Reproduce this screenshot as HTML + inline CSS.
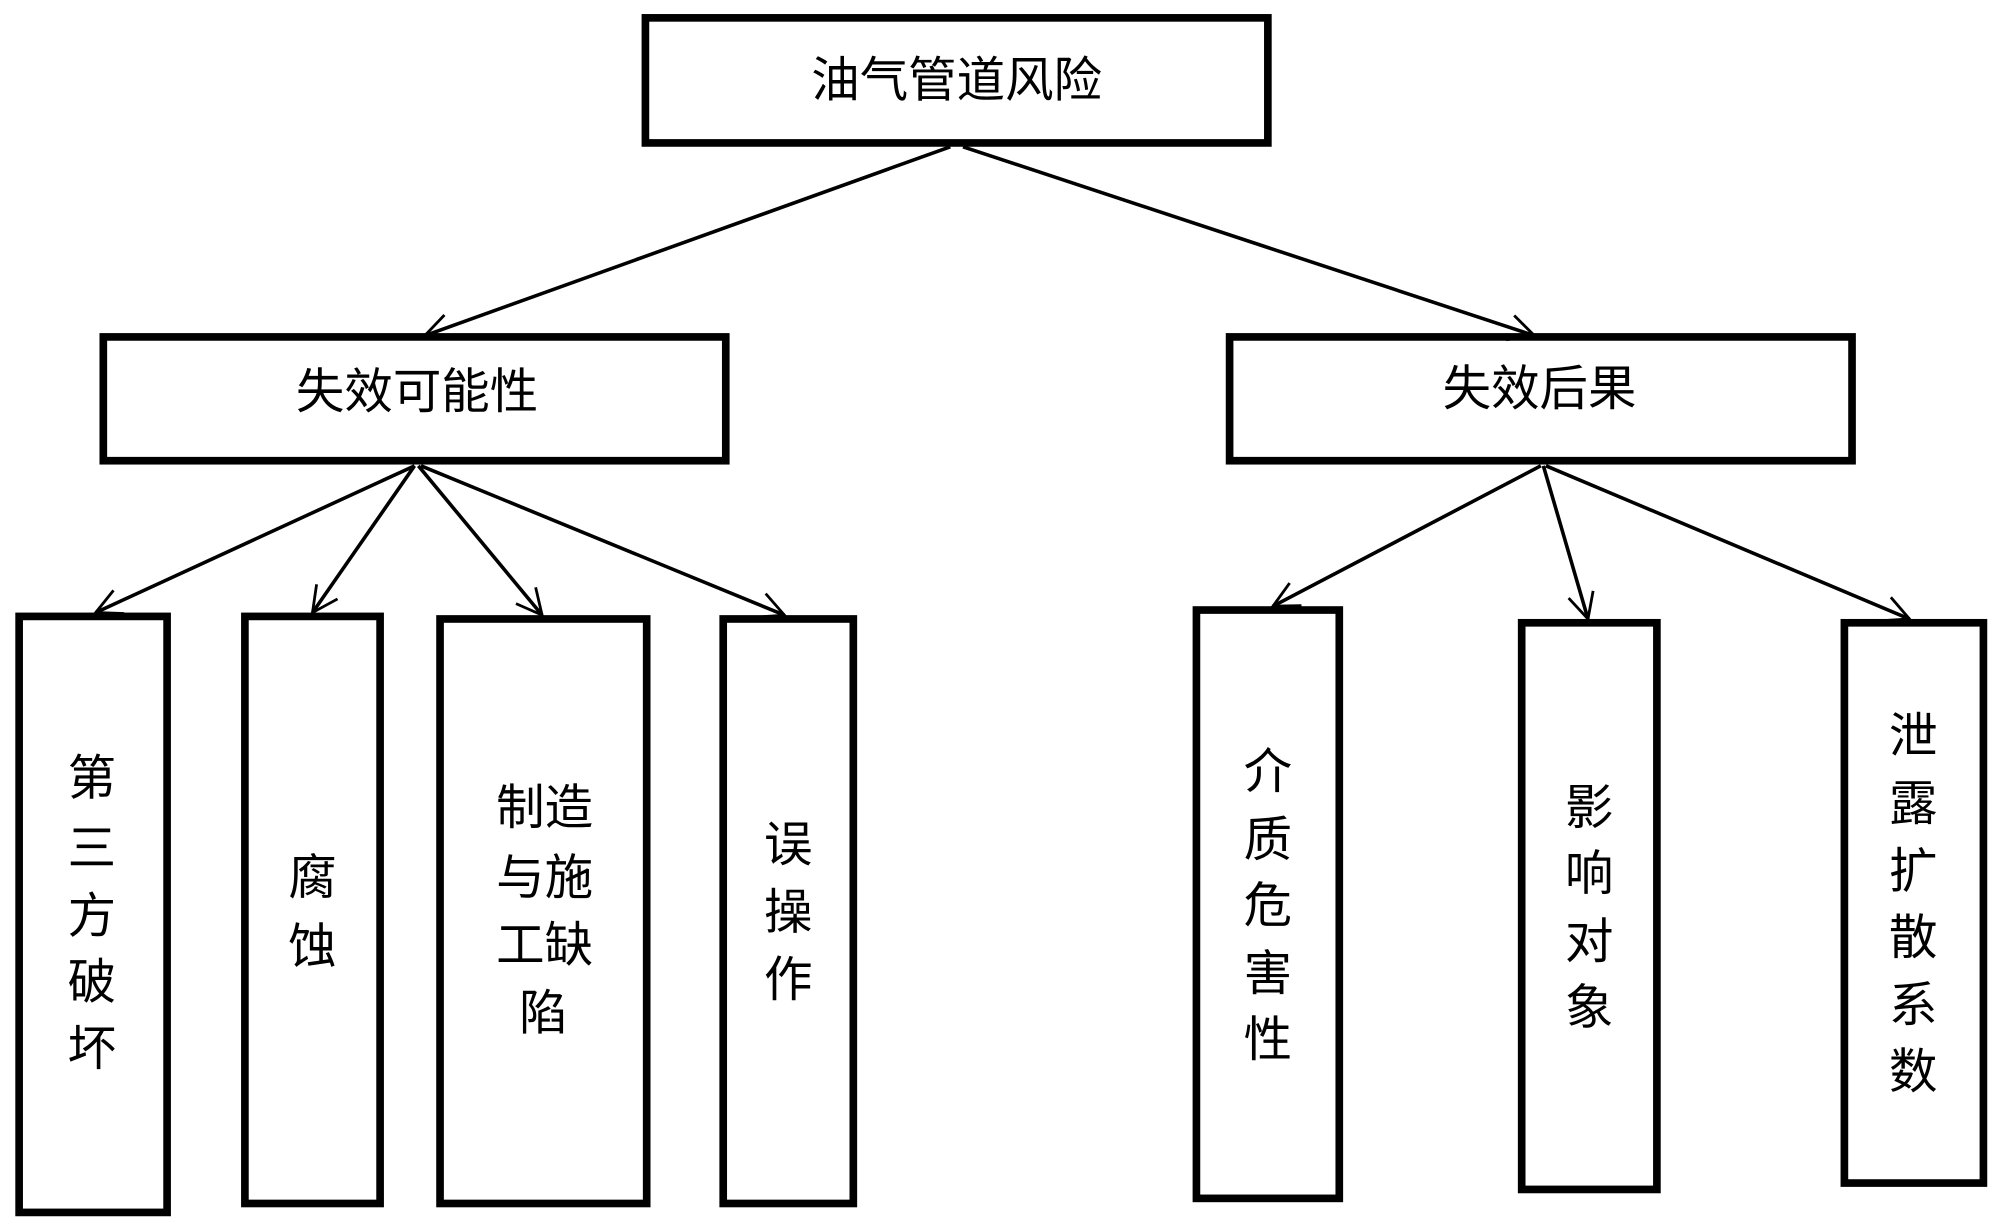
<!DOCTYPE html>
<html><head><meta charset="utf-8"><style>
html,body{margin:0;padding:0;background:#fff;width:2000px;height:1229px;overflow:hidden}
svg{display:block}
text{font-family:"Liberation Sans","Noto Sans CJK SC",sans-serif;font-size:38px;fill:#000;text-anchor:middle;dominant-baseline:central}
</style></head><body>
<svg width="2000" height="1229" viewBox="0 0 1568 963" preserveAspectRatio="none">
<defs><marker id="a" viewBox="0 0 24 24" refX="22" refY="12" markerWidth="24" markerHeight="24" markerUnits="userSpaceOnUse" orient="auto"><path d="M2 2 L22 12 L2 22" fill="none" stroke="#000" stroke-width="2.2"/></marker></defs>
<g fill="none" stroke="#000" stroke-width="6">
<rect x="506" y="14" width="488" height="98"/>
<rect x="81" y="264" width="488" height="97"/>
<rect x="964" y="264" width="488" height="97"/>
<rect x="15" y="483" width="116" height="467"/>
<rect x="192" y="483" width="106" height="460"/>
<rect x="345" y="485" width="162" height="458"/>
<rect x="567" y="485" width="102" height="458"/>
<rect x="938" y="478" width="112" height="461"/>
<rect x="1193" y="488" width="106" height="444"/>
<rect x="1446" y="488" width="109" height="439"/>
</g>
<g stroke="#000" stroke-width="2.8" marker-end="url(#a)">
<line x1="745" y1="115" x2="333" y2="263"/>
<line x1="755" y1="115" x2="1203" y2="263"/>
<line x1="325" y1="365" x2="75" y2="480"/>
<line x1="325" y1="365" x2="245" y2="480"/>
<line x1="328" y1="365" x2="425" y2="482"/>
<line x1="330" y1="365" x2="615" y2="482"/>
<line x1="1208" y1="365" x2="998" y2="475"/>
<line x1="1210" y1="365" x2="1245" y2="485"/>
<line x1="1212" y1="365" x2="1497" y2="485"/>
</g>
<text x="750" y="63">油气管道风险</text>
<text x="327" y="307">失效可能性</text>
<text x="1207" y="305">失效后果</text>
<g>
<text x="72" y="610">第</text><text x="72" y="665">三</text><text x="72" y="718">方</text><text x="72" y="770">破</text><text x="72" y="822">坏</text>
<text x="245" y="688">腐</text><text x="245" y="742">蚀</text>
<text x="408" y="633">制</text><text x="446" y="633">造</text>
<text x="408" y="688">与</text><text x="446" y="688">施</text>
<text x="408" y="741">工</text><text x="446" y="741">缺</text>
<text x="426" y="794">陷</text>
<text x="618" y="662">误</text><text x="618" y="715">操</text><text x="618" y="768">作</text>
<text x="994" y="605">介</text><text x="994" y="658">质</text><text x="994" y="710">危</text><text x="994" y="763">害</text><text x="994" y="815">性</text>
<text x="1246" y="633">影</text><text x="1246" y="685">响</text><text x="1246" y="738">对</text><text x="1246" y="790">象</text>
<text x="1500" y="577">泄</text><text x="1500" y="630">露</text><text x="1500" y="683">扩</text><text x="1500" y="735">散</text><text x="1500" y="788">系</text><text x="1500" y="840">数</text>
</g>
</svg>
</body></html>
